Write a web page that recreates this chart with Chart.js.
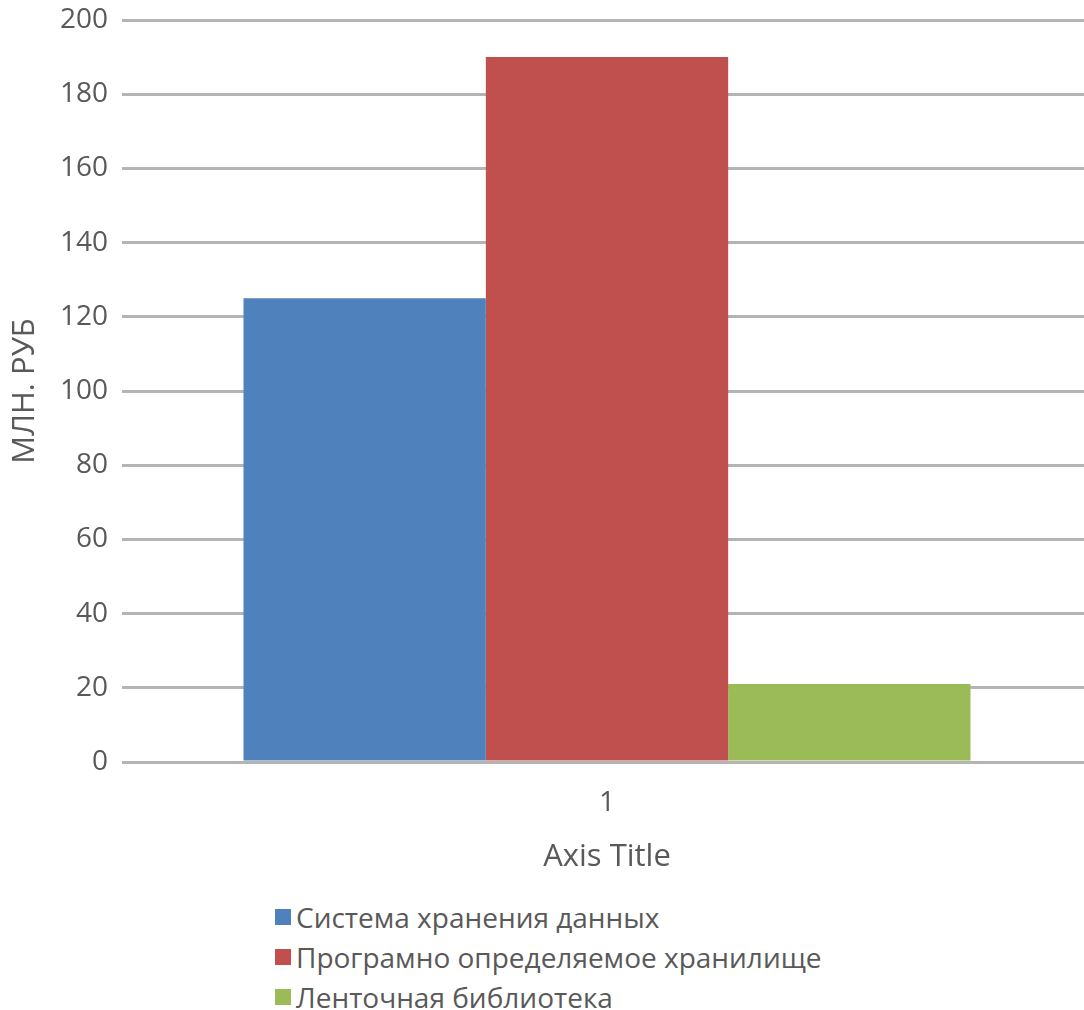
<!DOCTYPE html>
<html>
<head>
<meta charset="utf-8">
<script src="https://cdn.jsdelivr.net/npm/chart.js@4/dist/chart.umd.min.js"></script>
<style>
  html, body { margin: 0; padding: 0; background: #fff; overflow: hidden; }
  .wrap { position: relative; width: 1084px; height: 1010px; overflow: hidden; font-family: "Open Sans", sans-serif; color: #595959; }
  .canvas { position: absolute; left: 0; top: 0; }
  .legend { position: absolute; left: 275px; top: 897px; font-size: 28px; line-height: 40px; }
  .legend div { display: flex; align-items: center; white-space: nowrap; }
  .legend span.box { display: inline-block; width: 16px; height: 16px; margin-right: 5px; }
</style>
</head>
<body>
<div class="wrap">
  <canvas class="canvas" width="1092" height="880"></canvas>
  <div class="legend"></div>
</div>
<script>
let categories = ["1"];
let seriesNames = ["Система хранения данных", "Програмно определяемое хранилище", "Ленточная библиотека"];
let storageValues = [125];
let sdsValues = [190];
let tapeValues = [21];
let colors = ["#4f81bd", "#c0504d", "#9bbb59"];

let textColor = "#595959";
let font = "'Open Sans', sans-serif";

let chartdata = {
    labels: categories,
    datasets: [
        { label: seriesNames[0], backgroundColor: colors[0], data: storageValues },
        { label: seriesNames[1], backgroundColor: colors[1], data: sdsValues },
        { label: seriesNames[2], backgroundColor: colors[2], data: tapeValues }
    ]
};

let chart = new Chart(document.querySelector(".canvas"), {
    type: "bar",
    data: chartdata,
    options: {
        responsive: false,
        animation: false,
        layout: { padding: { top: 20, right: 0, left: 0, bottom: 0 } },
        datasets: { bar: { categoryPercentage: 0.7495, barPercentage: 1 } },
        plugins: { legend: { display: false }, tooltip: { enabled: false } },
        scales: {
            x: {
                grid: { display: false },
                border: { display: false },
                ticks: { color: textColor, font: { family: font, size: 28 }, padding: 16 },
                title: { display: true, text: "Axis Title", color: textColor, font: { family: font, size: 31 }, padding: { top: 8 } },
                afterFit: s => { s.height = 118; }
            },
            y: {
                min: 0,
                max: 200,
                ticks: { stepSize: 20, color: textColor, font: { family: font, size: 28 }, padding: 14 },
                grid: { color: "#b4b4b4", lineWidth: 3, drawTicks: false },
                border: { display: false },
                title: { display: true, text: "МЛН. РУБ", color: textColor, font: { family: font, size: 31 }, padding: { top: 7, bottom: 0 } },
                afterFit: s => { s.width = 122; s.paddingTop = 0; s.paddingBottom = 0; }
            }
        }
    }
});

// legend list under the chart, one series per row
let legend = document.querySelector(".legend");
chart.data.datasets.forEach(ds => {
    let row = document.createElement("div");
    let box = document.createElement("span");
    box.className = "box";
    box.style.background = ds.backgroundColor;
    row.appendChild(box);
    row.appendChild(document.createTextNode(ds.label));
    legend.appendChild(row);
});
</script>
</body>
</html>
